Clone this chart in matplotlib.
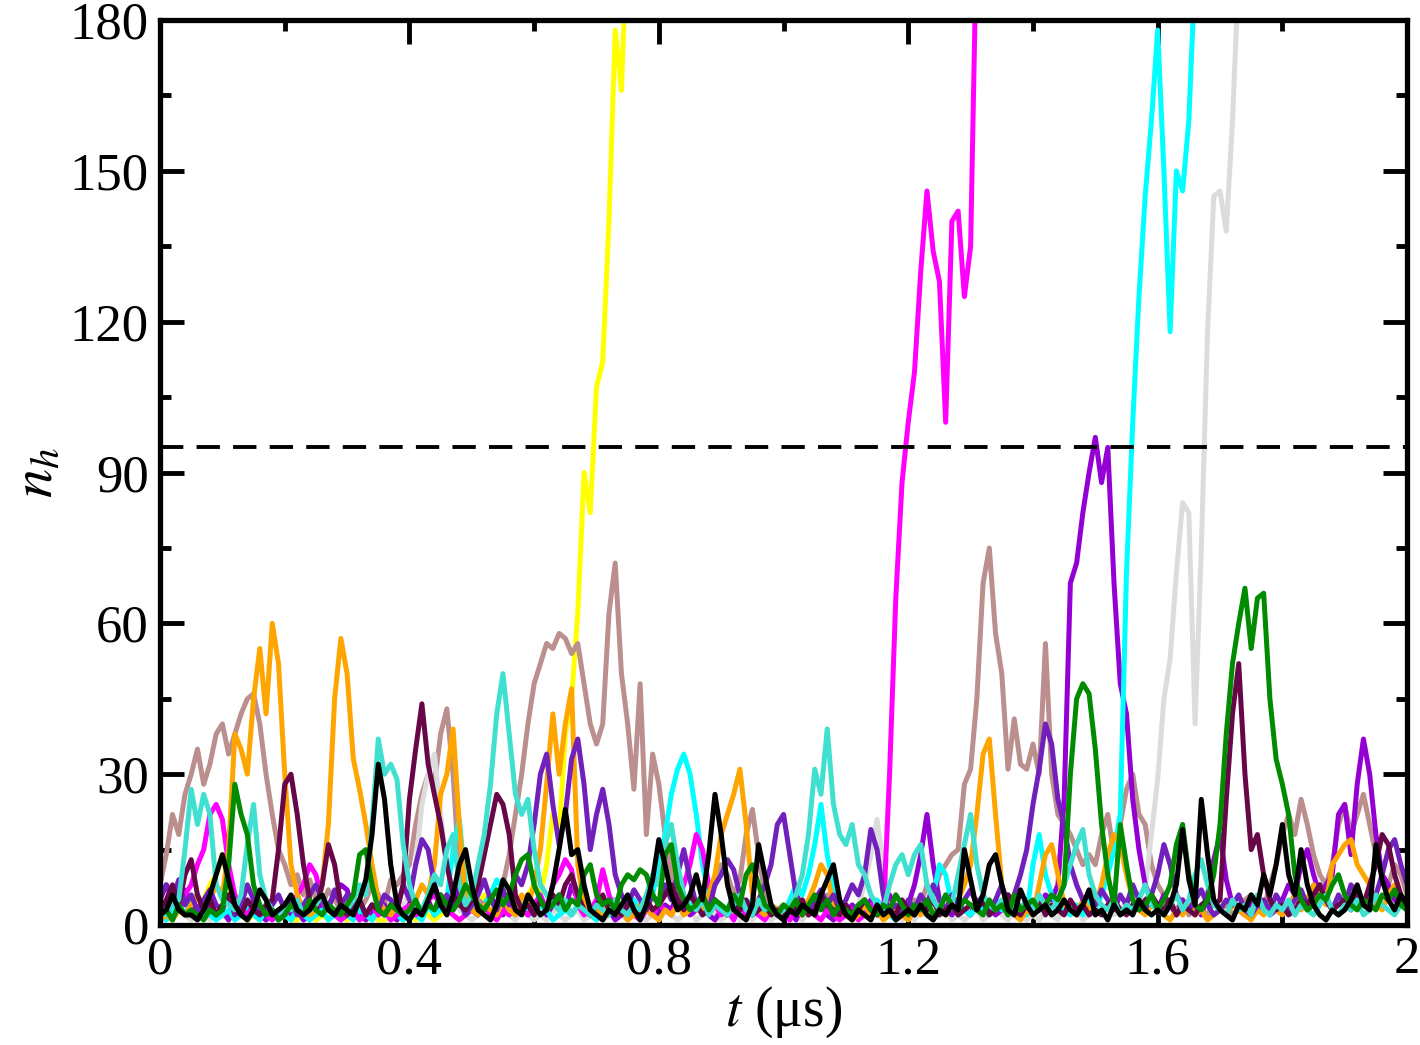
import numpy as np
import matplotlib
matplotlib.use("Agg")
import matplotlib.pyplot as plt
from matplotlib.ticker import MultipleLocator

plt.rcParams['font.family'] = ['Liberation Serif', 'DejaVu Serif']
plt.rcParams['mathtext.fontset'] = 'stix'

# time grid (microseconds), one sample every 0.01
t = np.round(np.arange(201) * 0.01, 2)

yellow = [1,2,1,3,2,1,3,5,8,10, 14,8,3,2,1,2,1,3,2,1, 2,1,1,3,2,1,2,1,3,2,
          1,2,4,1,2,1,1,2,3,1, 2,1,3,2,1,2,3,2,1,2, 3,4,6,5,3,2,5,4,3,6,
          8,6,12,22,18,38,45,62,90,82, 107,112,140,178,166,200]

brown = [8,14,22,18,26,30,35,28,32,38, 40,34,38,42,45,46,40,30,22,15,
         12,8,10,6,9,5,4,7,5,3, 4,6,3,5,8,6,4,9,8,10,
         12,20,26,30,28,38,43,30,10,5, 3,5,4,6,3,8,14,22,30,40,
         48,52,56,55,58,57,54,56,48,40, 36,40,62,72,50,40,27,48,18,34,
         28,18,10,6,4,3,5,4,6,8, 12,10,6,9,18,23,14,6,4,3,
         4,2,3,5,3,2,4,6,3,2, 4,3,2,5,3,4,2,3,6,4,
         3,5,4,8,6,10,12,14,15,28, 31,45,68,75,58,50,31,41,32,31,
         36,30,56,30,22,20,18,15,12,14, 12,18,22,14,20,27,30,22,20,12,
         8,6,4,3,5,2,4,3,2,5, 3,4,2,3,5,6,4,3,8,12,
         18,22,18,25,20,14,10,8,12,20, 24,18,22,26,20,14,10,8,12,10, 6]

grey = [1,2,1,3,2,1,2,3,1,2, 2,1,3,2,4,3,2,1,2,3, 2,1,3,2,1,2,4,3,2,1,
        2,3,1,2,3,4,2,1,3,4, 6,12,24,30,34,22,12,6,3,2, 1,2,3,1,2,4,2,1,3,2,
        1,2,1,3,2,1,2,3,1,2, 3,1,2,4,2,1,3,2,1,2, 1,3,2,1,2,3,1,2,4,2,
        1,2,3,1,2,1,3,2,1,2, 3,1,2,1,3,2,4,2,1,2, 3,2,4,8,14,21,12,4,2,1,
        2,1,3,2,1,2,3,1,2,1, 2,3,1,2,4,2,1,3,2,1, 2,1,3,2,1,4,2,3,1,2,
        3,2,4,2,3,5,4,6,7,18, 29,45,53,70,84,82,40,75,118,145,
        146,138,160,190,210]

violet = [5,8,6,3,7,4,2,5,3,2, 3,1,4,2,3,5,2,1,3,2, 4,2,3,1,2,5,3,4,6,8,
          7,3,2,1,3,2,4,2,1,3, 2,4,3,5,2,6,4,3,8,5, 3,2,4,6,3,2,5,3,4,2,
          3,5,2,4,6,3,8,5,3,2, 4,2,3,1,2,4,3,2,5,3, 2,4,3,6,4,2,3,5,2,1,
          3,2,4,3,2,5,3,2,4,3, 2,3,1,4,2,3,5,2,1,3, 2,4,3,2,5,3,4,6,3,2,
          4,8,14,22,12,5,3,2,4,3, 2,5,3,4,2,3,6,4,3,5,
          4,3,6,5,8,25,68,72,82,90, 97,88,95,68,48,42,25,15,8,5,
          3,6,4,2,5,3,4,2,6,13, 18,9,4,3,2,5,3,4,2,3,
          5,8,6,12,15,10,6,8,10,22, 24,14,28,37,30,18,10,8,5,4, 3]

cyan = [2,1,3,4,2,5,6,3,2,1, 2,3,1,2,4,2,1,3,2,1, 2,1,3,2,1,2,3,1,2,4,
        2,1,3,2,1,3,2,4,2,1, 3,2,1,4,2,3,5,15,21,8, 3,2,4,6,9,7,3,2,4,3,
        2,4,3,1,2,3,2,4,3,2, 1,3,2,4,2,3,5,3,4,6, 12,18,26,31,34,30,22,12,6,4,
        3,2,4,3,2,5,3,2,4,3, 2,5,8,6,10,16,24,14,8,4, 3,2,4,3,2,5,3,2,1,3,
        2,4,3,2,6,12,10,4,2,3, 2,4,3,2,5,3,4,2,3,2, 12,18,10,6,4,3,2,4,2,5,
        3,6,10,15,22,70,100,125,145,160, 178,150,118,150,146,160,190]

magenta = [3,2,5,4,6,8,12,15,22,24, 21,12,6,3,2,4,3,2,1,3, 2,4,6,8,12,10,5,3,2,1,
           2,3,1,2,4,2,3,1,2,3, 4,2,3,5,6,4,3,2,1,2, 3,2,4,2,1,3,2,4,3,2,
           4,6,3,8,10,13,11,4,2,3, 5,11,6,3,2,4,2,1,3,2, 4,3,2,5,8,12,18,15,8,4,
           2,3,1,4,2,3,2,1,3,2, 2,1,3,2,4,2,1,3,2,1, 2,3,1,2,4,2,2,30,65,88,
           100,110,130,146,134,128,100,140,142,125, 135,200]

orange = [1,2,1,3,2,4,6,3,5,8, 6,15,38,35,30,45,55,42,60,52,
          30,12,6,3,2,3,8,20,45,57, 50,33,27,20,12,5,3,2,4,2,
          3,5,8,6,12,26,30,39,20,5, 3,2,4,3,2,5,3,2,6,4,
          8,15,28,42,30,40,47,12,4,2, 3,2,4,2,3,1,2,4,3,2,
          1,3,2,4,2,3,5,3,6,10, 18,22,26,31,20,6,3,2,4,3,
          2,4,3,2,5,8,12,10,4,2, 3,1,2,4,2,3,1,2,3,2,
          1,3,2,4,2,3,2,5,5,8, 12,22,34,37,22,8,4,2,1,3,
          2,8,14,16,10,4,3,2,5,3, 4,8,14,18,16,10,5,3,2,4,
          3,2,1,3,2,4,2,3,1,2, 3,2,4,3,2,1,3,2,4,3,
          2,4,6,3,5,8,6,4,12,14, 16,17,12,10,8,4,3,6,8,4, 3]

indigo = [6,8,5,9,4,6,3,5,7,4, 3,6,2,4,8,5,3,2,4,6, 3,5,2,4,6,8,5,3,7,4,
          6,3,5,2,4,3,6,5,3,8, 5,12,17,15,8,4,6,3,5,2, 4,6,9,5,3,7,4,10,8,12,
          20,30,34,24,16,22,33,37,28,15, 22,27,20,10,6,4,7,5,3,6,
          4,8,5,10,15,9,4,6,3,8, 10,13,11,6,4,3,5,8,12,20,
          22,14,6,4,3,5,7,4,6,3, 5,8,6,10,19,15,6,3,4,2,
          5,3,6,4,8,5,3,6,4,5, 7,4,6,3,5,8,4,6,10,15,
          24,31,40,36,25,20,12,8,5,6, 4,7,5,3,6,4,8,5,3,6,
          10,16,12,6,4,3,5,7,4,2, 3,5,4,6,3,2,4,5,3,6,
          4,3,5,7,4,6,8,5,3,6, 4,8,6,5,3,6,10,15,17,12, 8]

maroon = [3,5,8,4,10,13,6,3,5,2, 4,6,3,2,5,3,2,4,5,15, 28,30,22,12,5,3,8,16,12,4,
          2,3,5,2,4,3,2,4,3,8, 25,35,44,32,26,20,12,6,4,3, 5,8,14,20,26,24,18,6,3,4,
          2,5,3,6,4,8,10,6,3,2, 4,6,3,5,2,4,3,2,5,3, 4,6,8,5,3,6,4,2,3,5,
          3,2,4,3,5,2,3,4,2,3, 2,4,3,5,2,3,6,4,3,2, 4,2,3,5,3,2,4,3,2,5,
          3,2,4,3,5,2,3,4,2,3, 4,3,5,2,3,4,6,3,2,4, 3,5,2,4,3,2,5,3,4,2,
          3,2,4,5,3,2,4,3,5,6, 4,3,5,2,4,3,2,4,5,4, 5,25,42,52,30,15,18,10,5,3,
          4,2,3,5,4,6,8,5,3,4, 5,3,6,4,8,12,18,16,10,6, 4]

turquoise = [3,2,4,5,15,27,20,26,22,8, 5,4,3,6,16,24,10,5,3,2, 4,3,5,2,3,4,6,3,2,4,
             3,5,8,6,20,37,30,32,29,16, 8,4,3,6,10,8,15,18,8,4,
             6,12,18,28,42,50,38,26,22,25, 15,8,6,4,3,5,2,4,3,2,
             4,3,2,5,3,2,4,3,6,10, 8,16,20,12,6,4,3,5,2,4,
             3,2,4,6,3,2,5,3,4,2, 3,4,6,10,18,31,26,39,24,18,
             16,20,12,10,6,4,3,8,12,14, 10,14,16,8,5,3,6,4,10,16,
             22,12,6,4,3,5,2,4,3,5, 3,6,4,3,5,8,12,16,19,10,
             6,4,3,5,2,4,3,5,8,4, 3,2,4,6,3,5,10,13,8,4,
             3,2,5,3,4,2,6,3,2,4, 3,5,2,4,3,2,4,6,3,2, 4,3,5,2,3,6,4,3,2,4, 3]

green = [2,3,1,4,2,3,2,1,3,2, 3,12,28,22,18,8,4,2,3,1, 2,4,3,2,5,3,2,4,3,2,
         4,6,14,15,8,3,2,4,3,2, 3,5,2,4,3,6,4,3,5,8, 6,4,3,5,7,4,6,10,13,14,
         8,5,3,4,6,3,5,4,10,12, 6,4,5,3,8,10,9,11,10,6, 4,14,16,8,5,3,4,6,3,5,
         4,3,6,4,10,12,8,4,3,2, 4,3,5,2,4,6,3,5,2,4, 3,2,4,5,3,2,4,3,6,4,
         2,4,3,5,2,3,6,4,3,5, 4,3,2,5,3,4,2,6,3,4, 5,3,4,6,5,8,30,45,48,46,
         35,20,10,4,20,12,5,3,4,6, 3,5,8,16,20,10,4,3,5,10,
         20,38,52,60,67,55,65,66,45,33, 28,22,10,5,3,4,6,5,8,10,
         6,4,3,5,4,3,6,5,7,4, 3]

black = [2,3,6,3,2,2,1,3,6,10, 14,9,4,2,1,3,7,5,2,3, 4,6,3,2,3,5,6,3,2,4,
         3,2,5,9,18,32,25,12,4,2, 1,3,2,5,8,4,2,6,12,15, 8,3,2,1,4,9,7,3,2,6,
         4,2,3,8,15,23,14,15,8,3, 2,1,3,2,4,6,3,1,4,9, 17,12,6,3,4,6,10,5,14,26,
         18,8,3,2,1,4,16,10,4,2, 1,3,2,4,3,2,6,9,12,5, 2,1,3,2,1,4,2,3,1,2,
         3,2,4,2,1,3,2,4,3,15, 9,3,6,12,14,8,3,2,7,4, 2,3,4,2,3,5,3,2,4,7,
         2,3,1,4,2,3,2,5,3,2, 3,2,4,8,19,9,4,25,14,5, 3,2,1,4,3,6,4,10,6,12,
         20,10,6,15,8,4,2,1,3,2, 3,5,8,4,3,16,9,5,3,6, 4]

series = [
    (yellow, '#ffff00'),
    (brown, '#bc8f8f'),
    (grey, '#dcdcdc'),
    (violet, '#9400d3'),
    (cyan, '#00ffff'),
    (magenta, '#ff00ff'),
    (orange, '#ffa500'),
    (indigo, '#7220bc'),
    (maroon, '#670748'),
    (turquoise, '#40e0d0'),
    (green, '#008b00'),
    (black, '#000000'),
]

threshold = 95

fig = plt.figure(figsize=(14.2, 10.45), dpi=100)
ax = fig.add_axes([0.1127, 0.1148, 0.8782, 0.8660])

for vals, col in series:
    ax.plot(t[:len(vals)], vals, color=col, lw=3.6)

ax.axhline(threshold, color='black', lw=2.8, linestyle=(0, (6, 3.4)))

ax.set_xlim(0, 2)
ax.set_ylim(0, 180)
ax.xaxis.set_minor_locator(MultipleLocator(0.2))
ax.yaxis.set_major_locator(MultipleLocator(30))
ax.yaxis.set_minor_locator(MultipleLocator(15))
ax.set_xticks([0, 0.4, 0.8, 1.2, 1.6, 2.0])
ax.set_xticklabels(['0', '0.4', '0.8', '1.2', '1.6', '2'])

ax.tick_params(which='both', direction='in', top=True, right=True,
               labelsize=38, width=3.5, pad=8)
ax.tick_params(which='major', length=17)
ax.tick_params(which='minor', length=8)
for sp in ax.spines.values():
    sp.set_linewidth(3.8)

ax.set_xlabel(r'$t$ (μs)', fontsize=40, labelpad=0)
ax.set_ylabel(r'$n_h$', fontsize=42, labelpad=4)

fig.savefig('out.png', dpi=100)
